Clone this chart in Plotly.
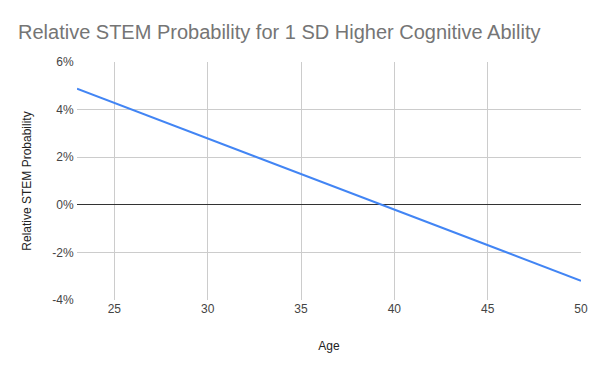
import plotly.graph_objects as go

ages = [23, 50]
rel_prob = [0.0488, -0.0319]
x_ticks = [25, 30, 35, 40, 45, 50]
y_ticks = [-0.04, -0.02, 0.0, 0.02, 0.04, 0.06]
y_tick_labels = ["-4%", "-2%", "0%", "2%", "4%", "6%"]

fig = go.Figure()
fig.add_trace(go.Scatter(x=ages, y=rel_prob, mode="lines",
                         line=dict(color="#4285F4", width=2), showlegend=False))

font = "Liberation Sans, Arial, sans-serif"
fig.update_layout(
    width=600, height=371,
    margin=dict(l=77, r=19, t=62, b=71),
    paper_bgcolor="white", plot_bgcolor="white",
    title=dict(text="Relative STEM Probability for 1 SD Higher Cognitive Ability",
               x=18/600, xanchor="left", y=1-32/371, yanchor="middle",
               font=dict(family=font, size=20, color="#757575")),
    font=dict(family=font, size=12, color="#444444"),
)
fig.update_xaxes(range=[23, 50], tickvals=x_ticks, showgrid=True, gridcolor="#cccccc",
                 gridwidth=1, zeroline=False, showline=False, ticks="",
                 tickfont=dict(size=12, color="#444444"),
                 title=dict(text="Age", font=dict(size=12, color="#222222"), standoff=26))
fig.update_yaxes(range=[-0.04, 0.06], tickvals=y_ticks, ticktext=y_tick_labels,
                 showgrid=True, gridcolor="#cccccc", gridwidth=1,
                 zeroline=True, zerolinecolor="#333333", zerolinewidth=1,
                 showline=False, ticks="outside", ticklen=0,
                 tickfont=dict(size=12, color="#444444"),
                 title=dict(text="Relative STEM Probability", font=dict(size=12, color="#222222"), standoff=18))

fig.write_html("out.html", config={"displayModeBar": False},
               post_script="document.body.style.margin='0';document.body.style.overflow='hidden';")
